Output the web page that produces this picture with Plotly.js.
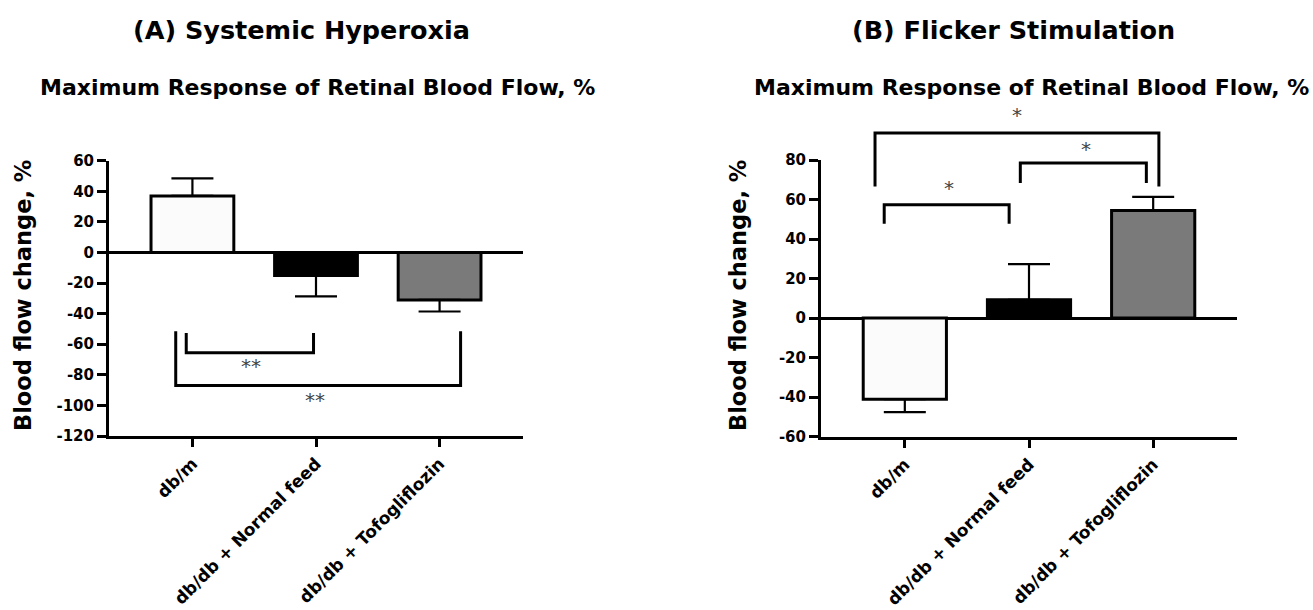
<!DOCTYPE html>
<html>
<head>
<meta charset="utf-8">
<script src="https://cdn.plot.ly/plotly-3.0.1.min.js"></script>
<style>
  html, body { margin: 0; padding: 0; background: #ffffff; }
  #chart { width: 1313px; height: 610px; }
</style>
</head>
<body>
<div id="chart"></div>
<script>
// Groups shown on both panels
const groups = ['db/m', 'db/db + Normal feed', 'db/db + Tofogliflozin'];
const barColors = ['#fbfbfb', '#000000', '#7a7a7a'];

// (A) Systemic hyperoxia: maximum response of retinal blood flow, %
const hyperoxiaMean = [37, -15, -31];
const hyperoxiaSEM = [11.5, 13.7, 7.6];

// (B) Flicker stimulation: maximum response of retinal blood flow, %
const flickerMean = [-41, 9.3, 54.5];
const flickerSEM = [6.6, 18, 6.8];

// Y tick values
const hyperoxiaTicks = [-120, -100, -80, -60, -40, -20, 0, 20, 40, 60];
const flickerTicks = [-60, -40, -20, 0, 20, 40, 60, 80];

// Significance brackets (data units): leg ends, bar level, mark and its spot
const hyperoxiaSig = [
  { x0: -0.05, x1: 0.98, tip: -52.6, base: -65.6, mark: '**', mx: 0.47, my: -74 },
  { x0: -0.135, x1: 2.17, tip: -51.5, base: -87, mark: '**', mx: 0.99, my: -96.5 }
];
const flickerSig = [
  { x0: -0.24, x1: 2.046, tip: 66.6, base: 93.7, mark: '*', mx: 0.9, my: 103 },
  { x0: -0.166, x1: 0.84, tip: 47.7, base: 57.4, mark: '*', mx: 0.354, my: 65.8 },
  { x0: 0.93, x1: 1.945, tip: 68.3, base: 78.5, mark: '*', mx: 1.457, my: 85.6 }
];

const idx = groups.map((_, i) => i);
const W = 1313, H = 610;
const boldFont = (size) => ({ family: 'DejaVu Sans', size: size, weight: 'bold', color: '#000' });

// pixel frames of the two plot areas
const frameA = { left: 109, right: 523, top: 160.7, bottom: 436 };
const frameB = { left: 821, right: 1237, top: 160, bottom: 436.7 };
const bracketTopB = 100; // room above panel B for its brackets

function barTrace(means, sems, xa, ya) {
  return {
    type: 'bar',
    x: idx,
    y: means,
    width: 0.67,
    xaxis: xa,
    yaxis: ya,
    marker: { color: barColors, line: { color: '#000', width: 3 } },
    error_y: {
      type: 'data',
      symmetric: false,
      array: means.map((m, i) => (m >= 0 ? sems[i] : 0)),
      arrayminus: means.map((m, i) => (m < 0 ? sems[i] : 0)),
      color: '#000',
      thickness: 2.2,
      width: 21
    },
    hoverinfo: 'y',
    showlegend: false
  };
}

function xAxis(frame) {
  return {
    domain: [frame.left / W, frame.right / W],
    range: [-0.675, 2.675],
    tickvals: idx,
    ticktext: groups,
    tickangle: -45,
    tickfont: boldFont(17),
    ticks: 'outside', ticklen: 8, tickwidth: 3, tickcolor: '#000',
    showline: true, linewidth: 3, linecolor: '#000',
    showgrid: false, zeroline: false, automargin: false,
    fixedrange: true
  };
}

function yAxis(frame, ticks, anchor) {
  return {
    domain: [1 - frame.bottom / H, 1 - frame.top / H],
    anchor: anchor,
    range: [ticks[0], ticks[ticks.length - 1]],
    tickvals: ticks,
    ticktext: ticks.map(String), // plain hyphen for negatives
    tickfont: boldFont(15),
    ticks: 'outside', ticklen: 9, tickwidth: 3, tickcolor: '#000',
    showline: true, linewidth: 3, linecolor: '#000',
    showgrid: false,
    zeroline: true, zerolinewidth: 3, zerolinecolor: '#000',
    automargin: false, fixedrange: true
  };
}

// hidden axis sharing panel B's scale but reaching higher, so the brackets are not clipped
const ppuB = (frameB.bottom - frameB.top) / (flickerTicks[flickerTicks.length - 1] - flickerTicks[0]);
const yBracketsB = {
  domain: [1 - frameB.bottom / H, 1 - bracketTopB / H],
  anchor: 'x2',
  range: [flickerTicks[0], flickerTicks[flickerTicks.length - 1] + (frameB.top - bracketTopB) / ppuB],
  visible: false, showgrid: false, zeroline: false, fixedrange: true
};

function bracketShapes(list, xr, yr) {
  return list.map(b => ({
    type: 'path', xref: xr, yref: yr,
    path: `M ${b.x0},${b.tip} V ${b.base} H ${b.x1} V ${b.tip}`,
    line: { color: '#000', width: 3 }
  }));
}

function markNotes(list, xr, yr) {
  return list.map(b => ({
    xref: xr, yref: yr, x: b.mx, y: b.my,
    text: b.mark, showarrow: false,
    xanchor: 'center', yanchor: 'middle',
    font: { family: 'DejaVu Sans', size: 20, color: '#444' }
  }));
}

function paperText(text, px, py, size, angle) {
  return {
    xref: 'paper', yref: 'paper', x: px / W, y: 1 - py / H,
    text: text, showarrow: false, textangle: angle || 0,
    xanchor: 'center', yanchor: 'middle',
    font: boldFont(size)
  };
}

const data = [
  barTrace(hyperoxiaMean, hyperoxiaSEM, 'x', 'y'),
  barTrace(flickerMean, flickerSEM, 'x2', 'y2'),
  { type: 'scatter', x: [], y: [], xaxis: 'x2', yaxis: 'y3', hoverinfo: 'skip', showlegend: false }
];

const layout = {
  width: W, height: H,
  margin: { l: 0, r: 0, t: 0, b: 0, pad: 0 },
  paper_bgcolor: '#fff', plot_bgcolor: 'rgba(0,0,0,0)',
  showlegend: false,
  bargap: 0,
  xaxis: xAxis(frameA),
  yaxis: yAxis(frameA, hyperoxiaTicks, 'x'),
  xaxis2: Object.assign(xAxis(frameB), { anchor: 'y2' }),
  yaxis2: yAxis(frameB, flickerTicks, 'x2'),
  yaxis3: yBracketsB,
  shapes: bracketShapes(hyperoxiaSig, 'x', 'y').concat(bracketShapes(flickerSig, 'x2', 'y3')),
  annotations: [
    paperText('(A) Systemic Hyperoxia', 301, 30, 25.5),
    paperText('Maximum Response of Retinal Blood Flow, %', 317, 87, 22),
    paperText('(B) Flicker Stimulation', 1013, 30, 25.5),
    paperText('Maximum Response of Retinal Blood Flow, %', 1031, 88, 22),
    paperText('Blood flow change, %', 23, 296, 22.5, -90),
    paperText('Blood flow change, %', 738, 296, 22.5, -90)
  ].concat(markNotes(hyperoxiaSig, 'x', 'y'), markNotes(flickerSig, 'x2', 'y3'))
};

Plotly.newPlot('chart', data, layout, { displayModeBar: false, staticPlot: true });
</script>
</body>
</html>
